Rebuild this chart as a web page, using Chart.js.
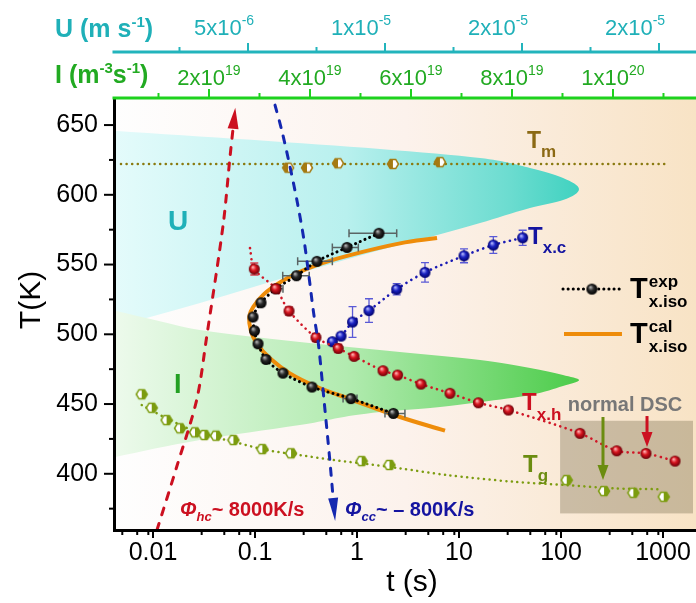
<!DOCTYPE html>
<html>
<head>
<meta charset="utf-8">
<title>Crystallization T-t diagram</title>
<script src="https://cdn.jsdelivr.net/npm/chart.js@4.4.1/dist/chart.umd.min.js"></script>
<style>
  html, body { margin: 0; padding: 0; background: #fff; }
  canvas { display: block; }
</style>
</head>
<body>
<canvas id="myChart" width="696" height="603"></canvas>
<script>
// Axis ticks
const xTickValues = [0.01, 0.1, 1, 10, 100, 1000];
const xTickLabels = ['0.01', '0.1', '1', '10', '100', '1000'];
const xMinorSteps = [3, 5, 7, 9];
const yTickValues = [400, 450, 500, 550, 600, 650];
const yMinorValues = [375, 425, 475, 525, 575, 625];
const uTickValues = [5e-6, 1e-5, 1.5e-5, 2e-5];
const uTickLabels = [['5x10', '-6'], ['1x10', '-5'], ['2x10', '-5'], ['2x10', '-5']];
const uMinorValues = [2.5e-6, 7.5e-6, 1.25e-5, 1.75e-5];
const iTickValues = [2e19, 4e19, 6e19, 8e19, 1e20];
const iTickLabels = [['2x10', '19'], ['4x10', '19'], ['6x10', '19'], ['8x10', '19'], ['1x10', '20']];
const iMinorValues = [1e19, 3e19, 5e19, 7e19, 9e19, 1.1e20];

// Tm
const tmTime = [0.211, 0.323, 0.651, 2.25, 6.5];
const tmTemp = [619.4, 619.4, 622.6, 622.1, 623.4];
const tmLineTime = [0.00485, 1047];
const tmLineTemp = [622, 622];

// Tx.c (cooling)
const txcTime = [0.573, 0.697, 0.904, 1.311, 2.45, 4.64, 11.2, 21.7, 42.1];
const txcTemp = [494.7, 498.7, 508.8, 517.0, 532.3, 544.4, 556.3, 564.0, 569.2];
const txcErr = [2, 2, 11, 8.5, 4, 7, 5, 6, 5.4];

// Tx.h (heating)
const txhTime = [0.0984, 0.160, 0.2155, 0.396, 0.654, 0.935, 1.80, 2.50, 4.24, 8.16, 15.5, 30.5, 153.5, 352, 681, 1312];
const txhTemp = [546.8, 532.7, 516.7, 497.7, 489.9, 484.2, 473.9, 470.8, 464.3, 457.7, 450.9, 445.7, 429.0, 416.5, 414.6, 409.1];
const txhErr = [4.3, 0, 3, 3, 3, 2, 0, 0, 0, 0, 0, 0, 0, 0, 0, 0];
const txhLineTime = [0.0893, 0.0984, 0.160, 0.2155, 0.396, 0.654, 0.935, 1.80, 2.50, 4.24, 8.16, 15.5, 30.5, 153.5, 352, 681, 1312];
const txhLineTemp = [561.8, 546.8, 532.7, 516.7, 497.7, 489.9, 484.2, 473.9, 470.8, 464.3, 457.7, 450.9, 445.7, 429.0, 416.5, 414.6, 409.1];

// Tx.iso experimental
const isoTime = [1.643, 0.798, 0.405, 0.255, 0.160, 0.1146, 0.0956, 0.0989, 0.107, 0.128, 0.188, 0.362, 0.873, 2.27];
const isoTemp = [572.4, 562.3, 552.3, 542.0, 532.6, 522.6, 512.4, 502.5, 493.2, 482.0, 472.2, 462.2, 453.9, 443.3];
const isoErrLo = [0.835, 0.573, 0.262, 0.187, 0.150, 0.108, 0.090, 0.093, 0.100, 0.120, 0.176, 0.340, 0.730, 1.88];
const isoErrHi = [2.45, 1.03, 0.573, 0.340, 0.188, 0.122, 0.101, 0.105, 0.114, 0.137, 0.200, 0.385, 1.00, 2.95];

// Tx.iso calculated
const calTime = [6.09, 2.64, 0.854, 0.403, 0.220, 0.130, 0.0962, 0.0879, 0.0908, 0.104, 0.140, 0.220, 0.403, 0.854, 2.64, 7.29];
const calTemp = [569.0, 565.2, 556.8, 549.6, 541.3, 530.5, 519.7, 512.6, 503.0, 493.5, 482.8, 472.0, 462.4, 453.6, 440.7, 430.9];

// Tg
const tgTime = [0.00775, 0.00971, 0.0136, 0.0184, 0.0258, 0.0319, 0.0415, 0.0614, 0.118, 0.2255, 1.11, 2.08, 113.7, 264, 512, 1016];
const tgTemp = [457.0, 447.3, 438.5, 432.6, 429.7, 427.8, 427.3, 424.2, 417.7, 414.7, 409.1, 406.3, 395.5, 387.6, 386.4, 383.5];
const tgLineTime = [0.00775, 0.0136, 0.0289, 0.0612, 0.130, 0.276, 0.582, 1.245, 2.64, 7.57, 34.1, 113.7, 326, 935];
const tgLineTemp = [449.3, 439.7, 429.0, 423.0, 417.0, 413.4, 409.9, 407.0, 403.9, 399.1, 394.3, 391.9, 389.6, 388.9];

// growth rate U(T) and nucleation rate I(T)
const uTemp = [646, 632.8, 626.3, 619.2, 612.0, 604.1, 596.2, 590.5, 579.7, 569.7, 560.4, 543.9, 522.4, 504.5];
const uRate = [0, 9.82e-6, 1.347e-5, 1.529e-5, 1.650e-5, 1.708e-5, 1.650e-5, 1.529e-5, 1.347e-5, 1.164e-5, 9.82e-6, 6.9e-6, 3.25e-6, 0];
const iTemp = [518, 508.8, 503.0, 494.4, 487.3, 481.5, 475.8, 470.8, 467.2, 462.9, 456.5, 451.4, 447.1, 444.3, 434.9, 424.2, 411];
const iRate = [0, 1.09e19, 1.82e19, 3.80e19, 5.78e19, 7.37e19, 8.36e19, 9.01e19, 9.33e19, 9.01e19, 8.36e19, 7.37e19, 6.38e19, 5.39e19, 3.80e19, 1.82e19, 0];

// heating / cooling paths
const hcTime = [0.01094, 0.01708, 0.0268, 0.0336, 0.0489, 0.0569, 0.0612];
const hcTemp = [359.7, 405.0, 452.9, 498.3, 579.5, 627.3, 648.8];
const ccTime = [0.1571, 0.1827, 0.2204, 0.2610, 0.3022, 0.3383, 0.3746, 0.4195, 0.4748, 0.5375, 0.5857];
const ccTemp = [664.3, 646.4, 620.1, 593.9, 567.6, 541.3, 515.9, 492.3, 452.9, 412.2, 381.2];

const F = '"Liberation Sans", Arial, Helvetica, sans-serif';
const fnt = (s, b, i) => (i ? 'italic ' : '') + (b ? 'bold ' : '') + s + 'px ' + F;
const pts = (xs, ys) => xs.map((x, i) => ({ x: x, y: ys[i] }));

function ball(hi, mid, lo, r) {
  const cv = document.createElement('canvas');
  const s = Math.ceil(r * 2 + 2);
  cv.width = s; cv.height = s;
  const g = cv.getContext('2d');
  const grd = g.createRadialGradient(s * 0.38, s * 0.34, 0.4, s / 2, s / 2, r);
  grd.addColorStop(0, hi);
  grd.addColorStop(0.45, mid);
  grd.addColorStop(1, lo);
  g.fillStyle = grd;
  g.beginPath(); g.arc(s / 2, s / 2, r, 0, Math.PI * 2); g.fill();
  return cv;
}

function hex(color, r, leftFilled) {
  const cv = document.createElement('canvas');
  const s = Math.ceil(r * 2 + 3);
  cv.width = s; cv.height = s;
  const g = cv.getContext('2d');
  const cx = s / 2, cy = s / 2;
  const path = () => {
    g.beginPath();
    for (let k = 0; k < 6; k++) {
      const a = Math.PI / 3 * k;
      const x = cx + r * Math.cos(a), y = cy + r * 0.95 * Math.sin(a);
      if (k) g.lineTo(x, y); else g.moveTo(x, y);
    }
    g.closePath();
  };
  path(); g.fillStyle = '#fff'; g.fill();
  g.save(); g.beginPath();
  if (leftFilled) g.rect(0, 0, cx, s); else g.rect(cx, 0, s, s);
  g.clip(); path(); g.fillStyle = color; g.fill(); g.restore();
  path(); g.strokeStyle = color; g.lineWidth = 1.5; g.stroke();
  return cv;
}

const blackBall = ball('#b4b4b4', '#2a2a2a', '#000000', 5.5);
const redBall = ball('#ffb4b4', '#d8141e', '#6a0008', 5.5);
const blueBall = ball('#b4b8ff', '#1c24c4', '#00006a', 5.5);
const tmHex = hex('#a57a12', 5.5, true);
const tgHex = hex('#7c9c10', 5.5, false);

function regionFill(scaleId, rates, stops) {
  return (c) => {
    const ch = c.chart, a = ch.chartArea;
    if (!a || !ch.scales[scaleId]) return 'rgba(0,0,0,0)';
    const tip = ch.scales[scaleId].getPixelForValue(Math.max(...rates));
    const g = ch.ctx.createLinearGradient(a.left, 0, tip, 0);
    stops.forEach(s => g.addColorStop(s[0], s[1]));
    return g;
  };
}

function rich(ctx, x, y, parts) {
  let cx = x;
  parts.forEach(p => {
    ctx.font = p[1];
    ctx.fillText(p[0], cx, y + (p[2] || 0));
    cx += ctx.measureText(p[0]).width;
  });
  return cx - x;
}
function richWidth(ctx, parts) {
  let w = 0;
  parts.forEach(p => { ctx.font = p[1]; w += ctx.measureText(p[0]).width; });
  return w;
}

function head(ctx, x1, y1, x2, y2, len, half, color) {
  const dx = x2 - x1, dy = y2 - y1, d = Math.hypot(dx, dy);
  const ux = dx / d, uy = dy / d;
  const bx = x2 - ux * 2, by = y2 - uy * 2;
  ctx.fillStyle = color;
  ctx.beginPath();
  ctx.moveTo(x2 + ux * len, y2 + uy * len);
  ctx.lineTo(bx - uy * half, by + ux * half);
  ctx.lineTo(bx + uy * half, by - ux * half);
  ctx.closePath();
  ctx.fill();
}

const IDX_TXH = 2, IDX_ISO = 3, IDX_TXC = 6;

const decor = {
  id: 'decor',
  beforeDraw(chart) {
    const { ctx, chartArea: a } = chart;
    ctx.save();
    ctx.fillStyle = '#fff';
    ctx.fillRect(0, 0, chart.width, chart.height);
    const g = ctx.createLinearGradient(a.left, 0, a.right, 0);
    g.addColorStop(0, '#fefefe');
    g.addColorStop(0.5, '#fcf2ec');
    g.addColorStop(1, '#f8e3c5');
    ctx.fillStyle = g;
    ctx.fillRect(a.left, a.top, a.right - a.left, a.bottom - a.top);
    ctx.restore();
  },
  beforeDatasetsDraw(chart) {
    const { ctx } = chart, sx = chart.scales.x, sy = chart.scales.y;
    // normal DSC window
    const x1 = sx.getPixelForValue(98), x2 = sx.getPixelForValue(1968);
    const y1 = sy.getPixelForValue(438), y2 = sy.getPixelForValue(371.6);
    ctx.save();
    ctx.fillStyle = 'rgba(120,108,78,0.36)';
    ctx.fillRect(x1, y1, x2 - x1, y2 - y1);
    ctx.restore();
  },
  beforeDatasetDraw(chart, args) {
    const { ctx } = chart, sx = chart.scales.x, sy = chart.scales.y;
    ctx.save();
    if (args.index === IDX_ISO) {
      ctx.strokeStyle = '#5a6464'; ctx.lineWidth = 1.5;
      isoTime.forEach((t, i) => {
        const y = sy.getPixelForValue(isoTemp[i]);
        const a = sx.getPixelForValue(isoErrLo[i]), b = sx.getPixelForValue(isoErrHi[i]);
        ctx.beginPath();
        ctx.moveTo(a, y); ctx.lineTo(b, y);
        ctx.moveTo(a, y - 4); ctx.lineTo(a, y + 4);
        ctx.moveTo(b, y - 4); ctx.lineTo(b, y + 4);
        ctx.stroke();
      });
    }
    if (args.index === IDX_TXC || args.index === IDX_TXH) {
      const blue = args.index === IDX_TXC;
      const tt = blue ? txcTime : txhTime, TT = blue ? txcTemp : txhTemp, ee = blue ? txcErr : txhErr;
      ctx.strokeStyle = blue ? '#5a5ad6' : '#d84050'; ctx.lineWidth = 1.3;
      tt.forEach((t, i) => {
        if (!ee[i]) return;
        const x = sx.getPixelForValue(t);
        const a = sy.getPixelForValue(TT[i] + ee[i]), b = sy.getPixelForValue(TT[i] - ee[i]);
        ctx.beginPath();
        ctx.moveTo(x, a); ctx.lineTo(x, b);
        ctx.moveTo(x - 4, a); ctx.lineTo(x + 4, a);
        ctx.moveTo(x - 4, b); ctx.lineTo(x + 4, b);
        ctx.stroke();
      });
    }
    ctx.restore();
  },
  afterDatasetsDraw(chart) {
    const { ctx } = chart, sx = chart.scales.x, sy = chart.scales.y;
    const P = (t, T) => ({ x: sx.getPixelForValue(t), y: sy.getPixelForValue(T) });
    ctx.save();
    // arrow heads on the heating / cooling paths
    [[0, '#cc1020', 19, 5.5], [1, '#1428b0', 21, 5]].forEach(([di, col, len, half]) => {
      const d = chart.getDatasetMeta(di).data;
      const p1 = d[d.length - 2], p2 = d[d.length - 1];
      head(ctx, p1.x, p1.y, p2.x, p2.y, len, half, col);
    });
    // DSC arrows
    const dscArrow = (t, T0, T1, col, len) => {
      const a = P(t, T0), b = P(t, T1);
      ctx.strokeStyle = col; ctx.lineWidth = 3;
      ctx.beginPath(); ctx.moveTo(a.x, a.y); ctx.lineTo(b.x, b.y - len + 2); ctx.stroke();
      head(ctx, a.x, a.y, b.x, b.y - len, len, 5.5, col);
    };
    dscArrow(258, 440.7, 395.5, '#6b8c10', 13);
    dscArrow(697, 441.4, 419.2, '#cc1020', 13);

    ctx.textBaseline = 'alphabetic';
    ctx.textAlign = 'left';
    let p;
    // region labels
    ctx.fillStyle = '#1fb0b8'; p = P(0.01403, 574.7);
    rich(ctx, p.x, p.y, [['U', fnt(28, true)]]);
    ctx.fillStyle = '#23a023'; p = P(0.01606, 457.9);
    rich(ctx, p.x, p.y, [['I', fnt(27, true)]]);
    // series labels
    ctx.fillStyle = '#8b6914'; p = P(46.4, 633.5);
    rich(ctx, p.x, p.y, [['T', fnt(23, true)], ['m', fnt(17, true), 9]]);
    ctx.fillStyle = '#1414a0'; p = P(47.5, 564.7);
    rich(ctx, p.x, p.y, [['T', fnt(24, true)], ['x.c', fnt(17, true), 9]]);
    ctx.fillStyle = '#cc1020'; p = P(41.5, 445.7);
    rich(ctx, p.x, p.y, [['T', fnt(24, true)], ['x.h', fnt(17, true), 10]]);
    ctx.fillStyle = '#6b8c10'; p = P(42.4, 401.3);
    rich(ctx, p.x, p.y, [['T', fnt(24, true)], ['g', fnt(17, true), 9]]);
    // normal DSC
    ctx.fillStyle = '#777777'; p = P(424, 445.0);
    ctx.font = fnt(20, true); ctx.textAlign = 'center';
    ctx.fillText('normal DSC', p.x, p.y);
    ctx.textAlign = 'left';
    // rates
    ctx.fillStyle = '#cc1020'; p = P(0.0184, 369.7);
    rich(ctx, p.x, p.y, [['\u03A6', fnt(20, true, true)], ['hc', fnt(13, true, true), 5], ['~ 8000K/s', fnt(20, true)]]);
    ctx.fillStyle = '#1414a0'; p = P(0.763, 369.7);
    rich(ctx, p.x, p.y, [['\u03A6', fnt(20, true, true)], ['cc', fnt(13, true, true), 5], ['~ \u2013 800K/s', fnt(20, true)]]);

    // legend
    let a = P(104.6, 532.4), b = P(396, 532.4);
    ctx.strokeStyle = '#000'; ctx.lineWidth = 3; ctx.lineCap = 'round'; ctx.setLineDash([0.1, 5]);
    ctx.beginPath(); ctx.moveTo(a.x, a.y); ctx.lineTo(b.x, b.y); ctx.stroke();
    ctx.setLineDash([]);
    p = P(201, 532.4);
    ctx.drawImage(blackBall, p.x - blackBall.width / 2, p.y - blackBall.height / 2);
    a = P(107, 500.2); b = P(396, 500.2);
    ctx.strokeStyle = '#ee8c0a'; ctx.lineWidth = 4; ctx.lineCap = 'butt';
    ctx.beginPath(); ctx.moveTo(a.x, a.y); ctx.lineTo(b.x, b.y); ctx.stroke();
    ctx.fillStyle = '#000';
    p = P(475, 526.0);
    const tw = rich(ctx, p.x, p.y, [['T', fnt(29, true)]]);
    rich(ctx, p.x + tw + 1, p.y - 11, [['exp', fnt(17, true)]]);
    rich(ctx, p.x + tw + 1, p.y + 9, [['x.iso', fnt(17, true)]]);
    p = P(475, 493.7);
    rich(ctx, p.x, p.y, [['T', fnt(29, true)]]);
    rich(ctx, p.x + tw + 1, p.y - 11, [['cal', fnt(17, true)]]);
    rich(ctx, p.x + tw + 1, p.y + 9, [['x.iso', fnt(17, true)]]);
    ctx.restore();
  },
  afterDraw(chart) {
    const { ctx, chartArea: a } = chart;
    const sx = chart.scales.x, sy = chart.scales.y, su = chart.scales.xU, si = chart.scales.xI;
    ctx.save();
    // bottom / left tick marks
    ctx.strokeStyle = '#000'; ctx.lineWidth = 2;
    sx.ticks.forEach(tk => {
      const px = sx.getPixelForValue(tk.value);
      const major = xTickValues.some(v => Math.abs(v - tk.value) < v * 1e-6);
      ctx.beginPath(); ctx.moveTo(px, a.bottom); ctx.lineTo(px, a.bottom + (major ? 8 : 5)); ctx.stroke();
    });
    sy.ticks.forEach(tk => {
      const py = sy.getPixelForValue(tk.value);
      const major = yTickValues.includes(tk.value);
      ctx.beginPath(); ctx.moveTo(a.left, py); ctx.lineTo(a.left - (major ? 10 : 5), py); ctx.stroke();
    });

    // top axes
    const topAxis = (scale, y, lineCol, textCol, majors, labels, minors, shift, base) => {
      ctx.strokeStyle = lineCol; ctx.lineWidth = 3;
      ctx.beginPath(); ctx.moveTo(a.left - 1.5, y); ctx.lineTo(a.right, y); ctx.stroke();
      ctx.lineWidth = 2;
      minors.forEach(v => {
        const px = scale.getPixelForValue(v);
        ctx.beginPath(); ctx.moveTo(px, y); ctx.lineTo(px, y - 5); ctx.stroke();
      });
      ctx.fillStyle = textCol;
      majors.forEach((v, i) => {
        const px = scale.getPixelForValue(v);
        ctx.beginPath(); ctx.moveTo(px, y); ctx.lineTo(px, y - 9); ctx.stroke();
        const parts = [[labels[i][0], fnt(22)], [labels[i][1], fnt(14), -10]];
        const w = richWidth(ctx, parts);
        rich(ctx, px + shift - w / 2, base, parts);
      });
    };
    ctx.textBaseline = 'alphabetic'; ctx.textAlign = 'left';
    topAxis(su, a.top - 46, '#22b4bc', '#1fb0b8', uTickValues, uTickLabels, uMinorValues, -24, a.top - 63);
    topAxis(si, a.top, '#1ed21e', '#22aa22', iTickValues, iTickLabels, iMinorValues, 0, a.top - 13);

    // top axis titles
    ctx.fillStyle = '#1fb0b8';
    rich(ctx, 55, a.top - 61, [['U (m s', fnt(25, true)], ['-1', fnt(15, true), -10], [')', fnt(25, true)]]);
    ctx.fillStyle = '#22aa22';
    rich(ctx, 55, a.top - 15, [['I (m', fnt(25, true)], ['-3', fnt(15, true), -10], ['s', fnt(25, true)], ['-1', fnt(15, true), -10], [')', fnt(25, true)]]);

    // axis titles
    ctx.fillStyle = '#000';
    ctx.font = fnt(30);
    ctx.textAlign = 'center'; ctx.textBaseline = 'middle';
    ctx.fillText('t (s)', 412, a.bottom + 53);
    ctx.translate(32, 300);
    ctx.rotate(-Math.PI / 2);
    ctx.fillText('T(K)', 0, 0);
    ctx.restore();
  }
};

// minor + major ticks of the log axis
function logTicks(min, max) {
  const out = [];
  for (let n = -3; n <= 3; n++) {
    [1].concat(xMinorSteps).forEach(m => {
      const v = Number((m * Math.pow(10, n)).toPrecision(6));
      if (v >= min && v <= max) out.push({ value: v });
    });
  }
  return out.sort((p, q) => p.value - q.value);
}

const dots = { borderDash: [0.1, 5.5], borderCapStyle: 'round' };
const ctxEl = document.getElementById('myChart');
new Chart(ctxEl, {
  type: 'line',
  data: {
    datasets: [
      { data: pts(hcTime, hcTemp), borderColor: '#cc1020', borderWidth: 3, borderDash: [7, 9], borderCapStyle: 'round', pointRadius: 0, tension: 0.3, fill: false },
      { data: pts(ccTime, ccTemp), borderColor: '#1428b0', borderWidth: 3, borderDash: [7, 9], borderCapStyle: 'round', pointRadius: 0, tension: 0.3, fill: false },
      { data: pts(txhTime, txhTemp), showLine: false, pointStyle: redBall, pointRadius: 5.5, fill: false },
      Object.assign({ data: pts(isoTime, isoTemp), borderColor: '#000', borderWidth: 3, pointStyle: blackBall, pointRadius: 5.5, tension: 0.3, fill: false }, { borderDash: [0.1, 5], borderCapStyle: 'round' }),
      { data: pts(calTime, calTemp), borderColor: '#ee8c0a', borderWidth: 4, pointRadius: 0, tension: 0.4, fill: false },
      Object.assign({ data: pts(txhLineTime, txhLineTemp), borderColor: '#d01828', borderWidth: 2.6, pointRadius: 0, tension: 0.3, fill: false }, dots),
      Object.assign({ data: pts(txcTime, txcTemp), borderColor: '#1a1ab4', borderWidth: 2.6, pointStyle: blueBall, pointRadius: 5.5, tension: 0.3, fill: false }, dots),
      { data: pts(tmTime, tmTemp), showLine: false, pointStyle: tmHex, pointRadius: 5.5, fill: false },
      Object.assign({ data: pts(tmLineTime, tmLineTemp), borderColor: '#8a7a10', borderWidth: 2.5, pointRadius: 0, fill: false }, dots),
      { data: pts(tgTime, tgTemp), showLine: false, pointStyle: tgHex, pointRadius: 5.5, fill: false },
      Object.assign({ data: pts(tgLineTime, tgLineTemp), borderColor: '#7c9c10', borderWidth: 2.5, pointRadius: 0, tension: 0.3, fill: false }, dots),
      { data: pts(iRate, iTemp), indexAxis: 'y', xAxisID: 'xI', yAxisID: 'y', borderColor: 'rgba(0,0,0,0)', borderWidth: 0, pointRadius: 0,
        cubicInterpolationMode: 'monotone', fill: { value: 0 },
        backgroundColor: regionFill('xI', iRate, [[0, '#edfaec'], [0.5, '#b2ebb0'], [1, '#4ccc4a']]) },
      { data: pts(uRate, uTemp), indexAxis: 'y', xAxisID: 'xU', yAxisID: 'y', borderColor: 'rgba(0,0,0,0)', borderWidth: 0, pointRadius: 0,
        cubicInterpolationMode: 'monotone', fill: { value: 0 },
        backgroundColor: regionFill('xU', uRate, [[0, '#e4fbfb'], [0.5, '#b8f0ee'], [0.85, '#6cdcd0'], [1, '#40d2c0']]) }
    ]
  },
  options: {
    responsive: false,
    animation: false,
    devicePixelRatio: 1,
    events: [],
    layout: { autoPadding: false, padding: { top: 98, right: 0, bottom: 0, left: 0 } },
    plugins: { legend: { display: false }, tooltip: { enabled: false } },
    scales: {
      x: {
        type: 'logarithmic', position: 'bottom', min: 0.004146, max: 2106,
        afterBuildTicks: s => { s.ticks = logTicks(s.min, s.max); },
        afterFit: s => { s.height = 73; s.paddingLeft = 0; s.paddingRight = 0; },
        grid: { display: false, drawTicks: false },
        border: { display: true, color: '#000', width: 3, z: 1 },
        ticks: {
          autoSkip: false, maxRotation: 0, padding: 8, color: '#000', font: { family: F, size: 25 },
          callback: v => {
            const i = xTickValues.findIndex(q => Math.abs(q - v) < q * 1e-6);
            return i >= 0 ? xTickLabels[i] : '';
          }
        }
      },
      y: {
        type: 'linear', position: 'left', min: 359.7, max: 669.4,
        afterBuildTicks: s => { s.ticks = yMinorValues.concat(yTickValues).sort((p, q) => p - q).map(v => ({ value: v })); },
        afterFit: s => { s.width = 114; s.paddingTop = 0; s.paddingBottom = 0; },
        grid: { display: false, drawTicks: false },
        border: { display: true, color: '#000', width: 3, z: 1 },
        ticks: {
          autoSkip: false, padding: 16, color: '#000', font: { family: F, size: 25 },
          callback: v => (yTickValues.includes(v) ? String(v) : '')
        }
      },
      xU: { type: 'linear', position: 'top', display: false, min: 1.095e-7, max: 2.135e-5 },
      xI: { type: 'linear', position: 'top', display: false, min: 1.188e18, max: 1.1644e20 }
    }
  },
  plugins: [decor]
});
</script>
</body>
</html>
